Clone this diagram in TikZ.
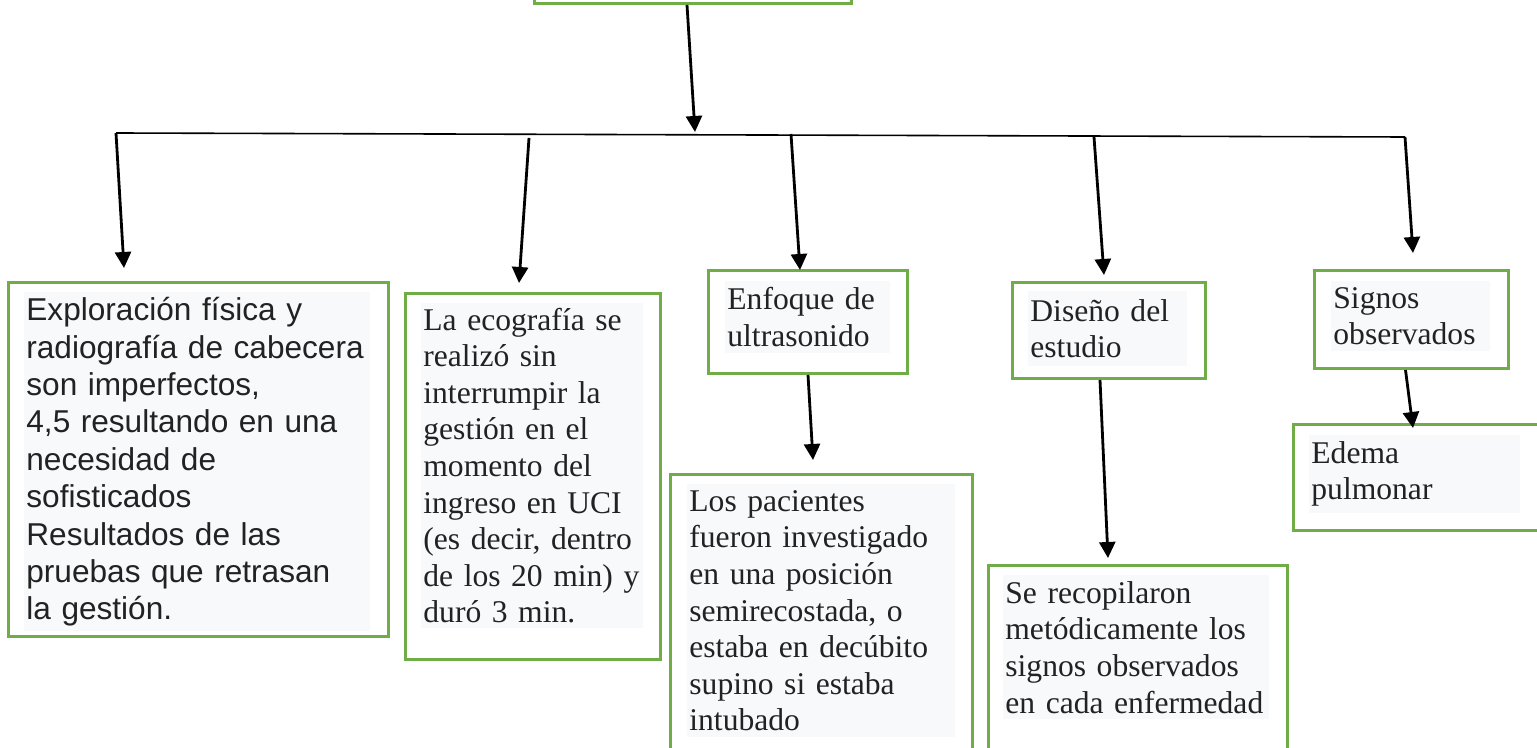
\documentclass[tikz,border=0pt]{standalone}
\usepackage{fontspec}
\setmainfont{Liberation Serif}
\newfontfamily\arialfont{Liberation Sans}
\usetikzlibrary{arrows.meta}
\definecolor{boxgreen}{RGB}{112,173,71}
\definecolor{boxshade}{RGB}{248,249,250}
\definecolor{inktext}{RGB}{34,34,34}

\begin{document}
\begin{tikzpicture}[x=0.5pt,y=-0.5pt,
	frame/.style={draw=boxgreen,line width=1.5pt,anchor=north west,inner sep=0pt},
	txt/.style={fill=boxshade,anchor=north west,text=inktext,align=left,
		inner xsep=1pt,inner ysep=3pt,font=\fontsize{15.8}{18.3}\selectfont},
	arr/.style={line width=1.4pt,-{Triangle[width=8pt,length=8pt]}}]
	\useasboundingbox (0,0) rectangle (1537,748);
	%
	\node[frame,minimum width=158.5pt,minimum height=40pt,anchor=south west] (top) at (533,5) {};
	%
	\node[frame,minimum width=190pt,minimum height=177pt]   (f1) at (7,281)    {};
	\node[frame,minimum width=127.5pt,minimum height=183pt] (f2) at (404,292)  {};
	\node[frame,minimum width=99.5pt,minimum height=51.5pt] (f3) at (707,269)  {};
	\node[frame,minimum width=151pt,minimum height=148.5pt] (f4) at (669,473)  {};
	\node[frame,minimum width=96.5pt,minimum height=48pt]   (f5) at (1011,281) {};
	\node[frame,minimum width=149.5pt,minimum height=103pt] (f6) at (987,564)  {};
	\node[frame,minimum width=97pt,minimum height=49pt]     (f7) at (1313,269) {};
	\node[frame,minimum width=122.5pt,minimum height=53pt]  (f8) at (1292,423) {};
	%
	\node[txt,text width=171pt,inner ysep=2.5pt,font=\arialfont\fontsize{15.8}{18.7}\selectfont] (t1) at (24,292)
		{Exploración física y\\radiografía de cabecera\\son imperfectos,\\4,5 resultando en una\\necesidad de\\sofisticados\\Resultados de las\\pruebas que retrasan\\la gestión.};
	\node[txt,text width=109pt,inner ysep=2.25pt] (t2) at (421,303)
		{La ecografía se\\realizó sin\\interrumpir la\\gestión en el\\momento del\\ingreso en UCI\\(es decir, dentro\\de los 20 min) y\\duró 3 min.};
	\node[txt,text width=80.5pt] (t3) at (725,281) {Enfoque de\\ultrasonido};
	\node[txt,text width=132pt] (t4) at (687,484)
		{Los pacientes\\fueron investigado\\en una posición\\semirecostada, o\\estaba en decúbito\\supino si estaba\\intubado};
	\node[txt,text width=77.5pt,inner ysep=4pt] (t5) at (1028,291) {Diseño del\\estudio};
	\node[txt,text width=131pt] (t6) at (1003,575)
		{Se recopilaron\\metódicamente los\\signos observados\\en cada enfermedad};
	\node[txt,text width=77.5pt] (t7) at (1331,281) {Signos\\observados};
	\node[txt,text width=103.5pt] (t8) at (1309,435) {Edema\\pulmonar};
	%
	\coordinate (h0) at (116,133);
	\coordinate (h1) at (1405,137);
	\coordinate (hub) at (695,132);
	\coordinate (s2) at (529,138);
	\coordinate (s3) at (791,134);
	\coordinate (s4) at (1094,137);
	\coordinate (e1) at (124,268);
	\coordinate (e2) at (519,283);
	\coordinate (e3) at (800,270);
	\coordinate (e4) at (1104,275);
	\coordinate (e5) at (1413,253);
	\coordinate (e6) at (813,460);
	\coordinate (e7) at (1108,558);
	\coordinate (e8) at (1413,428);
	%
	\draw[arr] ([xshift=-3pt]top.south) -- (hub);
	\draw[line width=0.8pt] (h0) -- (h1);
	%
	\draw[arr] (h0) -- (e1);
	\draw[arr] (s2) -- (e2);
	\draw[arr] (s3) -- (e3);
	\draw[arr] (s4) -- (e4);
	\draw[arr] (h1) -- (e5);
	%
	\draw[arr] (f3.south) -- (e6);
	\draw[arr] ([xshift=-4.5pt]f5.south) -- (e7);
	\draw[arr] ([xshift=-3pt]f7.south) -- (e8);
\end{tikzpicture}
\end{document}
